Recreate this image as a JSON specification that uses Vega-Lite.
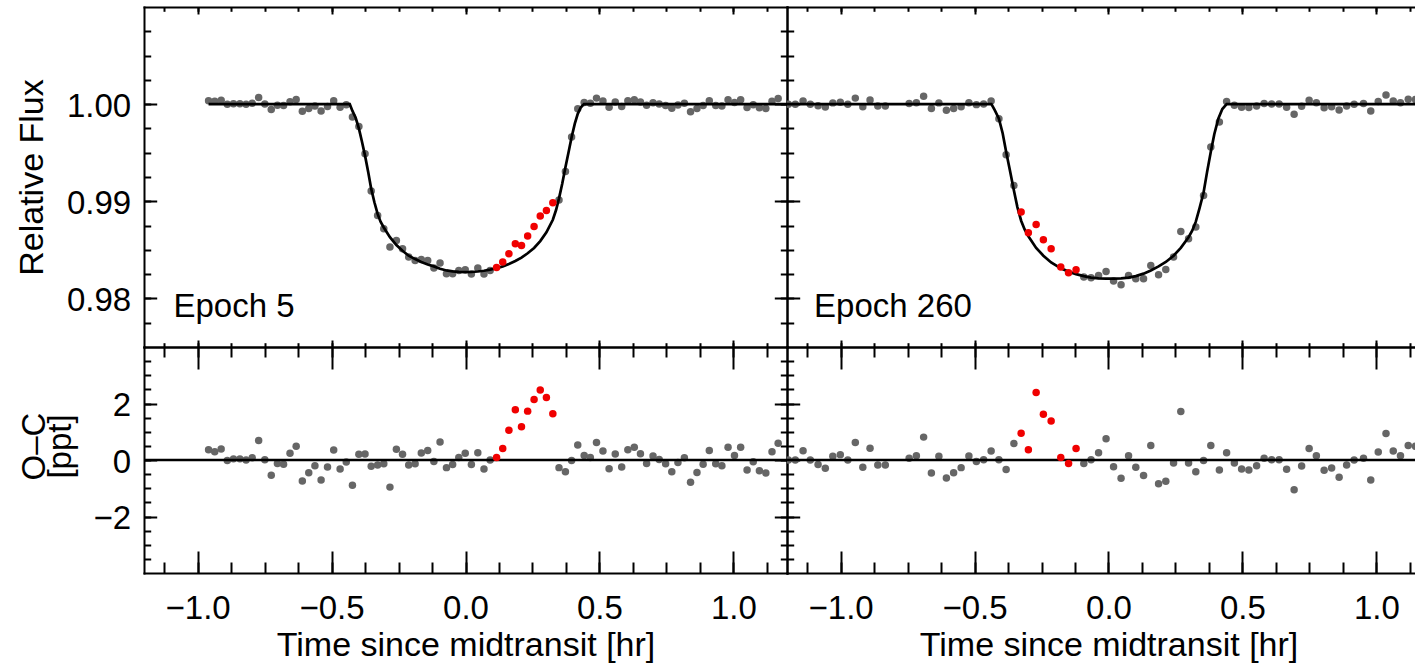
{
"$schema": "https://vega.github.io/schema/vega-lite/v6.json",
"background": "white",
"padding": {"left": 15, "top": 6, "right": 0, "bottom": 0},
"autosize": {"type": "pad"},
"config": {
 "font": "Liberation Sans",
 "view": {"stroke": null},
 "axis": {"grid": false, "domainColor": "black", "domainWidth": 2, "domainCap": "square", "tickColor": "black", "tickWidth": 2, "labelColor": "black", "labelFont": "Liberation Sans", "labelFontSize": 33, "titleFont": "Liberation Sans", "titleFontSize": 34, "titleFontWeight": "normal", "titleColor": "black", "labelFlush": false, "labelOverlap": false, "labelBound": false}
},
"datasets": {
 "e5": [
{"t":-0.959,"f":1.00036,"oc":0.36,"c":"g"},{"t":-0.936,"f":1.00029,"oc":0.29,"c":"g"},{"t":-0.912,"f":1.00039,"oc":0.39,"c":"g"},{"t":-0.889,"f":0.99998,"oc":-0.02,"c":"g"},{"t":-0.866,"f":1.00004,"oc":0.04,"c":"g"},{"t":-0.842,"f":1.00004,"oc":0.04,"c":"g"},{"t":-0.819,"f":1.0,"oc":0.0,"c":"g"},{"t":-0.796,"f":1.00008,"oc":0.08,"c":"g"},{"t":-0.772,"f":1.00069,"oc":0.69,"c":"g"},{"t":-0.749,"f":1.00001,"oc":0.01,"c":"g"},
{"t":-0.725,"f":0.99946,"oc":-0.54,"c":"g"},{"t":-0.702,"f":0.99988,"oc":-0.12,"c":"g"},{"t":-0.679,"f":0.99985,"oc":-0.15,"c":"g"},{"t":-0.655,"f":1.00024,"oc":0.24,"c":"g"},{"t":-0.632,"f":1.00049,"oc":0.49,"c":"g"},{"t":-0.609,"f":0.99926,"oc":-0.74,"c":"g"},{"t":-0.585,"f":0.99955,"oc":-0.45,"c":"g"},{"t":-0.562,"f":0.9998,"oc":-0.2,"c":"g"},{"t":-0.539,"f":0.99929,"oc":-0.71,"c":"g"},{"t":-0.515,"f":0.99975,"oc":-0.25,"c":"g"},
{"t":-0.492,"f":1.00035,"oc":0.35,"c":"g"},{"t":-0.468,"f":0.99968,"oc":-0.32,"c":"g"},{"t":-0.445,"f":0.99993,"oc":-0.07,"c":"g"},{"t":-0.422,"f":0.99867,"oc":-0.89,"c":"g"},{"t":-0.398,"f":0.9977,"oc":0.2,"c":"g"},{"t":-0.375,"f":0.99489,"oc":0.21,"c":"g"},{"t":-0.352,"f":0.99105,"oc":-0.22,"c":"g"},{"t":-0.328,"f":0.98854,"oc":-0.18,"c":"g"},{"t":-0.305,"f":0.98717,"oc":-0.13,"c":"g"},{"t":-0.282,"f":0.98529,"oc":-0.96,"c":"g"},
{"t":-0.258,"f":0.98597,"oc":0.38,"c":"g"},{"t":-0.235,"f":0.98511,"oc":0.2,"c":"g"},{"t":-0.212,"f":0.98426,"oc":-0.18,"c":"g"},{"t":-0.188,"f":0.98391,"oc":-0.13,"c":"g"},{"t":-0.165,"f":0.98401,"oc":0.25,"c":"g"},{"t":-0.141,"f":0.98391,"oc":0.34,"c":"g"},{"t":-0.118,"f":0.98313,"oc":-0.05,"c":"g"},{"t":-0.095,"f":0.98364,"oc":0.64,"c":"g"},{"t":-0.071,"f":0.98254,"oc":-0.27,"c":"g"},{"t":-0.048,"f":0.98254,"oc":-0.16,"c":"g"},
{"t":-0.025,"f":0.98288,"oc":0.09,"c":"g"},{"t":-0.001,"f":0.98295,"oc":0.24,"c":"g"},{"t":0.022,"f":0.98251,"oc":-0.16,"c":"g"},{"t":0.046,"f":0.98313,"oc":0.26,"c":"g"},{"t":0.069,"f":0.98251,"oc":-0.32,"c":"g"},{"t":0.092,"f":0.98288,"oc":0.0,"c":"g"},{"t":0.116,"f":0.98319,"oc":0.09,"c":"r"},{"t":0.139,"f":0.98374,"oc":0.41,"c":"r"},{"t":0.162,"f":0.9846,"oc":1.05,"c":"r"},{"t":0.186,"f":0.98563,"oc":1.78,"c":"r"},
{"t":0.209,"f":0.98545,"oc":1.18,"c":"r"},{"t":0.232,"f":0.98642,"oc":1.73,"c":"r"},{"t":0.256,"f":0.98741,"oc":2.14,"c":"r"},{"t":0.279,"f":0.98848,"oc":2.48,"c":"r"},{"t":0.302,"f":0.98906,"oc":2.21,"c":"r"},{"t":0.326,"f":0.98985,"oc":1.64,"c":"r"},{"t":0.349,"f":0.99013,"oc":-0.27,"c":"g"},{"t":0.373,"f":0.99307,"oc":-0.42,"c":"g"},{"t":0.396,"f":0.99661,"oc":-0.02,"c":"g"},{"t":0.419,"f":0.99953,"oc":0.53,"c":"g"},
{"t":0.443,"f":1.00016,"oc":0.16,"c":"g"},{"t":0.466,"f":1.00009,"oc":0.09,"c":"g"},{"t":0.489,"f":1.00062,"oc":0.62,"c":"g"},{"t":0.513,"f":1.00032,"oc":0.32,"c":"g"},{"t":0.536,"f":0.99969,"oc":-0.31,"c":"g"},{"t":0.559,"f":1.00021,"oc":0.21,"c":"g"},{"t":0.583,"f":0.99975,"oc":-0.25,"c":"g"},{"t":0.606,"f":1.00036,"oc":0.36,"c":"g"},{"t":0.63,"f":1.00045,"oc":0.45,"c":"g"},{"t":0.653,"f":1.00022,"oc":0.22,"c":"g"},
{"t":0.676,"f":0.99988,"oc":-0.12,"c":"g"},{"t":0.7,"f":1.00014,"oc":0.14,"c":"g"},{"t":0.723,"f":1.00002,"oc":0.02,"c":"g"},{"t":0.747,"f":0.99987,"oc":-0.13,"c":"g"},{"t":0.77,"f":0.99958,"oc":-0.42,"c":"g"},{"t":0.793,"f":0.99991,"oc":-0.09,"c":"g"},{"t":0.817,"f":1.00008,"oc":0.08,"c":"g"},{"t":0.84,"f":0.99921,"oc":-0.79,"c":"g"},{"t":0.864,"f":0.99956,"oc":-0.44,"c":"g"},{"t":0.887,"f":0.99985,"oc":-0.15,"c":"g"},
{"t":0.91,"f":1.00034,"oc":0.34,"c":"g"},{"t":0.934,"f":0.99987,"oc":-0.13,"c":"g"},{"t":0.957,"f":0.9998,"oc":-0.2,"c":"g"},{"t":0.98,"f":1.00045,"oc":0.45,"c":"g"},{"t":1.004,"f":1.00016,"oc":0.16,"c":"g"},{"t":1.027,"f":1.00045,"oc":0.45,"c":"g"},{"t":1.051,"f":0.99965,"oc":-0.35,"c":"g"},{"t":1.074,"f":0.99994,"oc":-0.06,"c":"g"},{"t":1.097,"f":0.99962,"oc":-0.38,"c":"g"},{"t":1.121,"f":0.99954,"oc":-0.46,"c":"g"},
{"t":1.144,"f":1.00029,"oc":0.29,"c":"g"},{"t":1.167,"f":1.00059,"oc":0.59,"c":"g"}
 ],
 "e260": [
{"t":-1.195,"f":1.0,"oc":0.0,"c":"g"},{"t":-1.169,"f":1.0,"oc":0.0,"c":"g"},{"t":-1.14,"f":1.00033,"oc":0.33,"c":"g"},{"t":-1.113,"f":1.0,"oc":0.0,"c":"g"},{"t":-1.084,"f":0.99984,"oc":-0.16,"c":"g"},{"t":-1.057,"f":0.99971,"oc":-0.29,"c":"g"},{"t":-1.029,"f":1.00013,"oc":0.13,"c":"g"},{"t":-1.001,"f":1.00019,"oc":0.19,"c":"g"},{"t":-0.973,"f":1.0,"oc":0.0,"c":"g"},{"t":-0.945,"f":1.00062,"oc":0.62,"c":"g"},
{"t":-0.917,"f":0.99974,"oc":-0.26,"c":"g"},{"t":-0.89,"f":1.00042,"oc":0.42,"c":"g"},{"t":-0.861,"f":0.99982,"oc":-0.18,"c":"g"},{"t":-0.833,"f":0.99982,"oc":-0.18,"c":"g"},{"t":-0.744,"f":1.00006,"oc":0.06,"c":"g"},{"t":-0.717,"f":1.00015,"oc":0.15,"c":"g"},{"t":-0.69,"f":1.00081,"oc":0.81,"c":"g"},{"t":-0.661,"f":0.99954,"oc":-0.46,"c":"g"},{"t":-0.633,"f":1.00013,"oc":0.13,"c":"g"},{"t":-0.605,"f":0.99936,"oc":-0.64,"c":"g"},
{"t":-0.578,"f":0.99955,"oc":-0.45,"c":"g"},{"t":-0.55,"f":0.99973,"oc":-0.27,"c":"g"},{"t":-0.521,"f":1.00014,"oc":0.14,"c":"g"},{"t":-0.493,"f":0.99995,"oc":-0.05,"c":"g"},{"t":-0.466,"f":1.00001,"oc":0.01,"c":"g"},{"t":-0.438,"f":1.00032,"oc":0.32,"c":"g"},{"t":-0.409,"f":0.9985,"oc":0.01,"c":"g"},{"t":-0.382,"f":0.99479,"oc":-0.34,"c":"g"},{"t":-0.353,"f":0.99163,"oc":0.58,"c":"g"},{"t":-0.326,"f":0.98889,"oc":0.95,"c":"r"},
{"t":-0.299,"f":0.98676,"oc":0.36,"c":"r"},{"t":-0.27,"f":0.98762,"oc":2.39,"c":"r"},{"t":-0.243,"f":0.98604,"oc":1.62,"c":"r"},{"t":-0.214,"f":0.98511,"oc":1.38,"c":"r"},{"t":-0.178,"f":0.98323,"oc":0.09,"c":"r"},{"t":-0.149,"f":0.98264,"oc":-0.12,"c":"r"},{"t":-0.121,"f":0.98295,"oc":0.41,"c":"r"},{"t":-0.092,"f":0.9822,"oc":-0.12,"c":"g"},{"t":-0.065,"f":0.98213,"oc":0.01,"c":"g"},{"t":-0.037,"f":0.98237,"oc":0.26,"c":"g"},
{"t":-0.009,"f":0.98278,"oc":0.75,"c":"g"},{"t":0.019,"f":0.98179,"oc":-0.24,"c":"g"},{"t":0.047,"f":0.98141,"oc":-0.65,"c":"g"},{"t":0.075,"f":0.98237,"oc":0.15,"c":"g"},{"t":0.102,"f":0.98203,"oc":-0.26,"c":"g"},{"t":0.131,"f":0.98203,"oc":-0.55,"c":"g"},{"t":0.158,"f":0.9834,"oc":0.51,"c":"g"},{"t":0.187,"f":0.98244,"oc":-0.84,"c":"g"},{"t":0.214,"f":0.98298,"oc":-0.75,"c":"g"},{"t":0.243,"f":0.98426,"oc":-0.11,"c":"g"},
{"t":0.27,"f":0.9869,"oc":1.72,"c":"g"},{"t":0.299,"f":0.98614,"oc":-0.11,"c":"g"},{"t":0.326,"f":0.98735,"oc":-0.42,"c":"g"},{"t":0.355,"f":0.9906,"oc":-0.02,"c":"g"},{"t":0.382,"f":0.99558,"oc":0.51,"c":"g"},{"t":0.414,"f":0.99816,"oc":-0.35,"c":"g"},{"t":0.441,"f":1.00028,"oc":0.26,"c":"g"},{"t":0.47,"f":0.99989,"oc":-0.11,"c":"g"},{"t":0.497,"f":0.99968,"oc":-0.32,"c":"g"},{"t":0.524,"f":0.99965,"oc":-0.35,"c":"g"},
{"t":0.553,"f":0.9998,"oc":-0.2,"c":"g"},{"t":0.581,"f":1.00006,"oc":0.06,"c":"g"},{"t":0.609,"f":1.00001,"oc":0.01,"c":"g"},{"t":0.637,"f":1.00001,"oc":0.01,"c":"g"},{"t":0.665,"f":0.99967,"oc":-0.33,"c":"g"},{"t":0.693,"f":0.99895,"oc":-1.05,"c":"g"},{"t":0.721,"f":0.99979,"oc":-0.21,"c":"g"},{"t":0.749,"f":1.00041,"oc":0.41,"c":"g"},{"t":0.776,"f":1.00015,"oc":0.15,"c":"g"},{"t":0.805,"f":0.99964,"oc":-0.36,"c":"g"},
{"t":0.833,"f":0.99972,"oc":-0.28,"c":"g"},{"t":0.861,"f":0.99939,"oc":-0.61,"c":"g"},{"t":0.889,"f":0.99982,"oc":-0.18,"c":"g"},{"t":0.917,"f":1.0,"oc":0.0,"c":"g"},{"t":0.952,"f":1.00006,"oc":0.06,"c":"g"},{"t":0.979,"f":0.99929,"oc":-0.71,"c":"g"},{"t":1.007,"f":1.00028,"oc":0.28,"c":"g"},{"t":1.036,"f":1.00094,"oc":0.94,"c":"g"},{"t":1.063,"f":1.00032,"oc":0.32,"c":"g"},{"t":1.09,"f":1.00015,"oc":0.15,"c":"g"},
{"t":1.119,"f":1.00051,"oc":0.51,"c":"g"},{"t":1.146,"f":1.00049,"oc":0.49,"c":"g"}
 ],
 "m5": [
{"t":-0.959,"m":1},{"t":-0.432,"m":1},{"t":-0.422,"m":0.9993},{"t":-0.41,"m":0.9986},{"t":-0.398,"m":0.9975},{"t":-0.387,"m":0.9962},{"t":-0.375,"m":0.9947},{"t":-0.363,"m":0.993},{"t":-0.352,"m":0.9913},{"t":-0.34,"m":0.9899},{"t":-0.328,"m":0.9887},{"t":-0.317,"m":0.9879},{"t":-0.305,"m":0.9873},{"t":-0.282,"m":0.9863},{"t":-0.258,"m":0.9855},{"t":-0.235,"m":0.9849},{"t":-0.212,"m":0.9844},{"t":-0.188,"m":0.98405},{"t":-0.165,"m":0.98375},{"t":-0.141,"m":0.9835},{"t":-0.118,"m":0.9833},{"t":-0.095,"m":0.98305},{"t":-0.071,"m":0.98288},{"t":-0.048,"m":0.98278},{"t":-0.025,"m":0.98273},{"t":0,"m":0.98271},{"t":0.022,"m":0.98272},{"t":0.046,"m":0.98277},{"t":0.069,"m":0.98285},{"t":0.092,"m":0.98296},{"t":0.116,"m":0.9831},{"t":0.139,"m":0.9833},{"t":0.162,"m":0.98355},{"t":0.186,"m":0.98385},{"t":0.209,"m":0.9842},{"t":0.232,"m":0.98465},{"t":0.256,"m":0.9852},{"t":0.279,"m":0.9859},{"t":0.302,"m":0.9868},{"t":0.326,"m":0.9881},{"t":0.338,"m":0.9891},{"t":0.349,"m":0.9903},{"t":0.361,"m":0.9918},{"t":0.373,"m":0.9935},{"t":0.385,"m":0.9951},{"t":0.396,"m":0.9966},{"t":0.408,"m":0.998},{"t":0.419,"m":0.999},{"t":0.43,"m":0.99965},{"t":0.442,"m":1},{"t":1.2,"m":1}
 ],
 "m260": [
{"t":-1.2,"m":1},{"t":-0.437,"m":1},{"t":-0.425,"m":0.9994},{"t":-0.409,"m":0.9985},{"t":-0.395,"m":0.997},{"t":-0.382,"m":0.9951},{"t":-0.368,"m":0.9932},{"t":-0.353,"m":0.9911},{"t":-0.34,"m":0.9894},{"t":-0.326,"m":0.988},{"t":-0.313,"m":0.9871},{"t":-0.299,"m":0.9864},{"t":-0.27,"m":0.9852},{"t":-0.243,"m":0.9844},{"t":-0.214,"m":0.9837},{"t":-0.178,"m":0.9831},{"t":-0.149,"m":0.98276},{"t":-0.121,"m":0.9825},{"t":-0.092,"m":0.9823},{"t":-0.065,"m":0.98215},{"t":-0.037,"m":0.98207},{"t":-0.009,"m":0.98203},{"t":0.019,"m":0.98203},{"t":0.047,"m":0.98207},{"t":0.075,"m":0.98215},{"t":0.102,"m":0.9823},{"t":0.131,"m":0.98255},{"t":0.158,"m":0.98288},{"t":0.187,"m":0.9833},{"t":0.214,"m":0.98375},{"t":0.243,"m":0.9844},{"t":0.27,"m":0.9852},{"t":0.299,"m":0.9863},{"t":0.313,"m":0.987},{"t":0.326,"m":0.9879},{"t":0.34,"m":0.9893},{"t":0.355,"m":0.9909},{"t":0.368,"m":0.993},{"t":0.382,"m":0.9951},{"t":0.395,"m":0.9969},{"t":0.41,"m":0.9985},{"t":0.425,"m":0.9995},{"t":0.441,"m":1},{"t":1.2,"m":1}
 ]
},
"concat": [
 {
  "width": 643, "height": 340,
  "resolve": {"axis": {"x": "independent", "y": "independent"}},
  "layer": [
   {"data": {"name": "e5"}, "transform": [{"filter": "datum.c == 'g'"}],
    "mark": {"type": "circle", "size": 56, "opacity": 1, "color": "#666666", "clip": true},
    "encoding": {
     "x": {"field": "t", "type": "quantitative", "scale": {"domain": [-1.2, 1.2], "nice": false, "zero": false}, "axis": {"orient": "bottom", "values": [-1, -0.5, 0, 0.5, 1], "tickSize": -7, "labels": false, "title": null}},
     "y": {"field": "f", "type": "quantitative", "scale": {"domain": [0.975, 1.01], "nice": false, "zero": false}, "axis": {"orient": "left", "values": [0.98, 0.99, 1.0], "tickSize": -12.7, "format": ".2f", "labelPadding": 26, "labelOffset": 2, "title": "Relative Flux", "titleAngle": 270, "titleBaseline": "alphabetic", "titleX": -101.6}}
    }},
   {"data": {"name": "m5"},
    "mark": {"type": "line", "color": "black", "strokeWidth": 2.7, "clip": true},
    "encoding": {
     "x": {"field": "t", "type": "quantitative", "scale": {"domain": [-1.2, 1.2], "nice": false, "zero": false}, "axis": {"orient": "bottom", "values": [-1.125,-1,-0.875,-0.75,-0.625,-0.5,-0.375,-0.25,-0.125,0,0.125,0.25,0.375,0.5,0.625,0.75,0.875,1,1.125], "tickSize": -4.3, "labels": false, "domain": false, "title": null}},
     "y": {"field": "m", "type": "quantitative", "scale": {"domain": [0.975, 1.01], "nice": false, "zero": false}, "axis": {"orient": "left", "values": [0.9775,0.98,0.9825,0.985,0.9875,0.99,0.9925,0.995,0.9975,1,1.0025,1.005,1.0075], "tickSize": -6.7, "labels": false, "domain": false, "title": null}}
    }},
   {"data": {"name": "e5"}, "transform": [{"filter": "datum.c == 'r'"}],
    "mark": {"type": "circle", "size": 56, "opacity": 1, "color": "#f00000", "clip": true},
    "encoding": {
     "x": {"field": "t", "type": "quantitative", "scale": {"domain": [-1.2, 1.2], "nice": false, "zero": false}, "axis": {"orient": "top", "values": [-1, -0.5, 0, 0.5, 1], "tickSize": -7, "labels": false, "title": null}},
     "y": {"field": "f", "type": "quantitative", "scale": {"domain": [0.975, 1.01], "nice": false, "zero": false}, "axis": {"orient": "right", "values": [0.98, 0.99, 1.0], "tickSize": -12.7, "labels": false, "title": null}}
    }},
   {"data": {"values": [{"t": -1.09, "f": 0.97808, "s": "Epoch 5"}]},
    "mark": {"type": "text", "align": "left", "baseline": "alphabetic", "fontSize": 33, "color": "black"},
    "encoding": {
     "x": {"field": "t", "type": "quantitative", "scale": {"domain": [-1.2, 1.2], "nice": false, "zero": false}, "axis": {"orient": "top", "values": [-1.125,-1,-0.875,-0.75,-0.625,-0.5,-0.375,-0.25,-0.125,0,0.125,0.25,0.375,0.5,0.625,0.75,0.875,1,1.125], "tickSize": -4.3, "labels": false, "domain": false, "title": null}},
     "y": {"field": "f", "type": "quantitative", "scale": {"domain": [0.975, 1.01], "nice": false, "zero": false}, "axis": {"orient": "right", "values": [0.9775,0.98,0.9825,0.985,0.9875,0.99,0.9925,0.995,0.9975,1,1.0025,1.005,1.0075], "tickSize": -6.7, "labels": false, "domain": false, "title": null}},
     "text": {"field": "s"}
    }}
  ]
 },
 {
  "width": 628, "height": 340,
  "resolve": {"axis": {"x": "independent", "y": "independent"}},
  "layer": [
   {"data": {"name": "e260"}, "transform": [{"filter": "datum.c == 'g'"}],
    "mark": {"type": "circle", "size": 56, "opacity": 1, "color": "#666666", "clip": true},
    "encoding": {
     "x": {"field": "t", "type": "quantitative", "scale": {"domain": [-1.2, 1.1442], "nice": false, "zero": false}, "axis": {"orient": "bottom", "values": [-1, -0.5, 0, 0.5, 1], "tickSize": -7, "labels": false, "title": null}},
     "y": {"field": "f", "type": "quantitative", "scale": {"domain": [0.975, 1.01], "nice": false, "zero": false}, "axis": {"orient": "left", "values": [0.98, 0.99, 1.0], "tickSize": -12.7, "labels": false, "title": null}}
    }},
   {"data": {"name": "m260"},
    "mark": {"type": "line", "color": "black", "strokeWidth": 2.7, "clip": true},
    "encoding": {
     "x": {"field": "t", "type": "quantitative", "scale": {"domain": [-1.2, 1.1442], "nice": false, "zero": false}, "axis": {"orient": "bottom", "values": [-1.125,-1,-0.875,-0.75,-0.625,-0.5,-0.375,-0.25,-0.125,0,0.125,0.25,0.375,0.5,0.625,0.75,0.875,1,1.125], "tickSize": -4.3, "labels": false, "domain": false, "title": null}},
     "y": {"field": "m", "type": "quantitative", "scale": {"domain": [0.975, 1.01], "nice": false, "zero": false}, "axis": {"orient": "left", "values": [0.9775,0.98,0.9825,0.985,0.9875,0.99,0.9925,0.995,0.9975,1,1.0025,1.005,1.0075], "tickSize": -6.7, "labels": false, "domain": false, "title": null}}
    }},
   {"data": {"name": "e260"}, "transform": [{"filter": "datum.c == 'r'"}],
    "mark": {"type": "circle", "size": 56, "opacity": 1, "color": "#f00000", "clip": true},
    "encoding": {
     "x": {"field": "t", "type": "quantitative", "scale": {"domain": [-1.2, 1.1442], "nice": false, "zero": false}, "axis": {"orient": "top", "values": [-1, -0.5, 0, 0.5, 1], "tickSize": -7, "labels": false, "title": null}},
     "y": {"field": "f", "type": "quantitative", "scale": {"domain": [0.975, 1.01], "nice": false, "zero": false}, "axis": null}
    }},
   {"data": {"values": [{"t": -1.099, "f": 0.97808, "s": "Epoch 260"}]},
    "mark": {"type": "text", "align": "left", "baseline": "alphabetic", "fontSize": 33, "color": "black"},
    "encoding": {
     "x": {"field": "t", "type": "quantitative", "scale": {"domain": [-1.2, 1.1442], "nice": false, "zero": false}, "axis": {"orient": "top", "values": [-1.125,-1,-0.875,-0.75,-0.625,-0.5,-0.375,-0.25,-0.125,0,0.125,0.25,0.375,0.5,0.625,0.75,0.875,1,1.125], "tickSize": -4.3, "labels": false, "domain": false, "title": null}},
     "y": {"field": "f", "type": "quantitative", "scale": {"domain": [0.975, 1.01], "nice": false, "zero": false}, "axis": null},
     "text": {"field": "s"}
    }}
  ]
 },
 {
  "width": 643, "height": 226,
  "resolve": {"axis": {"x": "independent", "y": "independent"}},
  "layer": [
   {"data": {"name": "e5"}, "transform": [{"filter": "datum.c == 'g'"}],
    "mark": {"type": "circle", "size": 56, "opacity": 1, "color": "#666666", "clip": true},
    "encoding": {
     "x": {"field": "t", "type": "quantitative", "scale": {"domain": [-1.2, 1.2], "nice": false, "zero": false}, "axis": {"orient": "bottom", "values": [-1, -0.5, 0, 0.5, 1], "tickSize": -22, "format": ".1f", "labelPadding": 41.7, "title": "Time since midtransit [hr]", "titleBaseline": "alphabetic", "titleY": 82.7}},
     "y": {"field": "oc", "type": "quantitative", "scale": {"domain": [-4, 4], "nice": false, "zero": false}, "axis": {"orient": "left", "values": [-2, 0, 2], "tickSize": -12.7, "format": "d", "labelPadding": 26, "labelOffset": 2, "title": ["O–C", "[ppt]"], "titleAngle": 270, "titleBaseline": "alphabetic", "titleX": -99.5, "titleY": 99, "titleFontSize": 33, "titleLineHeight": 26}}
    }},
   {"data": {"values": [{}]},
    "mark": {"type": "rule", "color": "black", "strokeWidth": 2.3},
    "encoding": {
     "y": {"datum": 0, "type": "quantitative", "scale": {"domain": [-4, 4], "nice": false, "zero": false}, "axis": {"orient": "left", "values": [-3.5,-3,-2.5,-2,-1.5,-1,-0.5,0,0.5,1,1.5,2,2.5,3,3.5], "tickSize": -6.7, "labels": false, "domain": false, "title": null}}
    }},
   {"data": {"name": "e5"}, "transform": [{"filter": "datum.c == 'r'"}],
    "mark": {"type": "circle", "size": 56, "opacity": 1, "color": "#f00000", "clip": true},
    "encoding": {
     "x": {"field": "t", "type": "quantitative", "scale": {"domain": [-1.2, 1.2], "nice": false, "zero": false}, "axis": {"orient": "bottom", "values": [-1.125,-1,-0.875,-0.75,-0.625,-0.5,-0.375,-0.25,-0.125,0,0.125,0.25,0.375,0.5,0.625,0.75,0.875,1,1.125], "tickSize": -11, "labels": false, "domain": false, "title": null}},
     "y": {"field": "oc", "type": "quantitative", "scale": {"domain": [-4, 4], "nice": false, "zero": false}, "axis": {"orient": "right", "values": [-2, 0, 2], "tickSize": -12.7, "labels": false, "title": null}}
    }},
   {"data": {"values": [{"z": 0}]},
    "mark": {"type": "point", "opacity": 0},
    "encoding": {
     "x": {"field": "z", "type": "quantitative", "scale": {"domain": [-1.2, 1.2], "nice": false, "zero": false}, "axis": {"orient": "top", "values": [-1, -0.5, 0, 0.5, 1], "tickSize": -22, "labels": false, "title": null}},
     "y": {"field": "z", "type": "quantitative", "scale": {"domain": [-4, 4], "nice": false, "zero": false}, "axis": {"orient": "right", "values": [-3.5,-3,-2.5,-2,-1.5,-1,-0.5,0,0.5,1,1.5,2,2.5,3,3.5], "tickSize": -6.7, "labels": false, "domain": false, "title": null}}
    }},
   {"data": {"values": [{"z": 0}]},
    "mark": {"type": "point", "opacity": 0},
    "encoding": {
     "x": {"field": "z", "type": "quantitative", "scale": {"domain": [-1.2, 1.2], "nice": false, "zero": false}, "axis": {"orient": "top", "values": [-1.125,-1,-0.875,-0.75,-0.625,-0.5,-0.375,-0.25,-0.125,0,0.125,0.25,0.375,0.5,0.625,0.75,0.875,1,1.125], "tickSize": -10, "labels": false, "domain": false, "title": null}},
     "y": {"field": "z", "type": "quantitative", "scale": {"domain": [-4, 4], "nice": false, "zero": false}, "axis": null}
    }}
  ]
 },
 {
  "width": 628, "height": 226,
  "resolve": {"axis": {"x": "independent", "y": "independent"}},
  "layer": [
   {"data": {"name": "e260"}, "transform": [{"filter": "datum.c == 'g'"}],
    "mark": {"type": "circle", "size": 56, "opacity": 1, "color": "#666666", "clip": true},
    "encoding": {
     "x": {"field": "t", "type": "quantitative", "scale": {"domain": [-1.2, 1.1442], "nice": false, "zero": false}, "axis": {"orient": "bottom", "values": [-1, -0.5, 0, 0.5, 1], "tickSize": -22, "format": ".1f", "labelPadding": 41.7, "title": "Time since midtransit [hr]", "titleBaseline": "alphabetic", "titleY": 82.7, "titleX": 321.5}},
     "y": {"field": "oc", "type": "quantitative", "scale": {"domain": [-4, 4], "nice": false, "zero": false}, "axis": {"orient": "left", "values": [-2, 0, 2], "tickSize": -12.7, "labels": false, "title": null}}
    }},
   {"data": {"values": [{}]},
    "mark": {"type": "rule", "color": "black", "strokeWidth": 2.3},
    "encoding": {
     "y": {"datum": 0, "type": "quantitative", "scale": {"domain": [-4, 4], "nice": false, "zero": false}, "axis": {"orient": "left", "values": [-3.5,-3,-2.5,-2,-1.5,-1,-0.5,0,0.5,1,1.5,2,2.5,3,3.5], "tickSize": -6.7, "labels": false, "domain": false, "title": null}}
    }},
   {"data": {"name": "e260"}, "transform": [{"filter": "datum.c == 'r'"}],
    "mark": {"type": "circle", "size": 56, "opacity": 1, "color": "#f00000", "clip": true},
    "encoding": {
     "x": {"field": "t", "type": "quantitative", "scale": {"domain": [-1.2, 1.1442], "nice": false, "zero": false}, "axis": {"orient": "bottom", "values": [-1.125,-1,-0.875,-0.75,-0.625,-0.5,-0.375,-0.25,-0.125,0,0.125,0.25,0.375,0.5,0.625,0.75,0.875,1,1.125], "tickSize": -11, "labels": false, "domain": false, "title": null}},
     "y": {"field": "oc", "type": "quantitative", "scale": {"domain": [-4, 4], "nice": false, "zero": false}, "axis": null}
    }},
   {"data": {"values": [{"z": 0}]},
    "mark": {"type": "point", "opacity": 0},
    "encoding": {
     "x": {"field": "z", "type": "quantitative", "scale": {"domain": [-1.2, 1.1442], "nice": false, "zero": false}, "axis": {"orient": "top", "values": [-1, -0.5, 0, 0.5, 1], "tickSize": -22, "labels": false, "title": null}},
     "y": {"field": "z", "type": "quantitative", "scale": {"domain": [-4, 4], "nice": false, "zero": false}, "axis": null}
    }},
   {"data": {"values": [{"z": 0}]},
    "mark": {"type": "point", "opacity": 0},
    "encoding": {
     "x": {"field": "z", "type": "quantitative", "scale": {"domain": [-1.2, 1.1442], "nice": false, "zero": false}, "axis": {"orient": "top", "values": [-1.125,-1,-0.875,-0.75,-0.625,-0.5,-0.375,-0.25,-0.125,0,0.125,0.25,0.375,0.5,0.625,0.75,0.875,1,1.125], "tickSize": -10, "labels": false, "domain": false, "title": null}},
     "y": {"field": "z", "type": "quantitative", "scale": {"domain": [-4, 4], "nice": false, "zero": false}, "axis": null}
    }}
  ]
 }
],
"columns": 2,
"spacing": 0,
"bounds": "flush",
"align": "each"
}
